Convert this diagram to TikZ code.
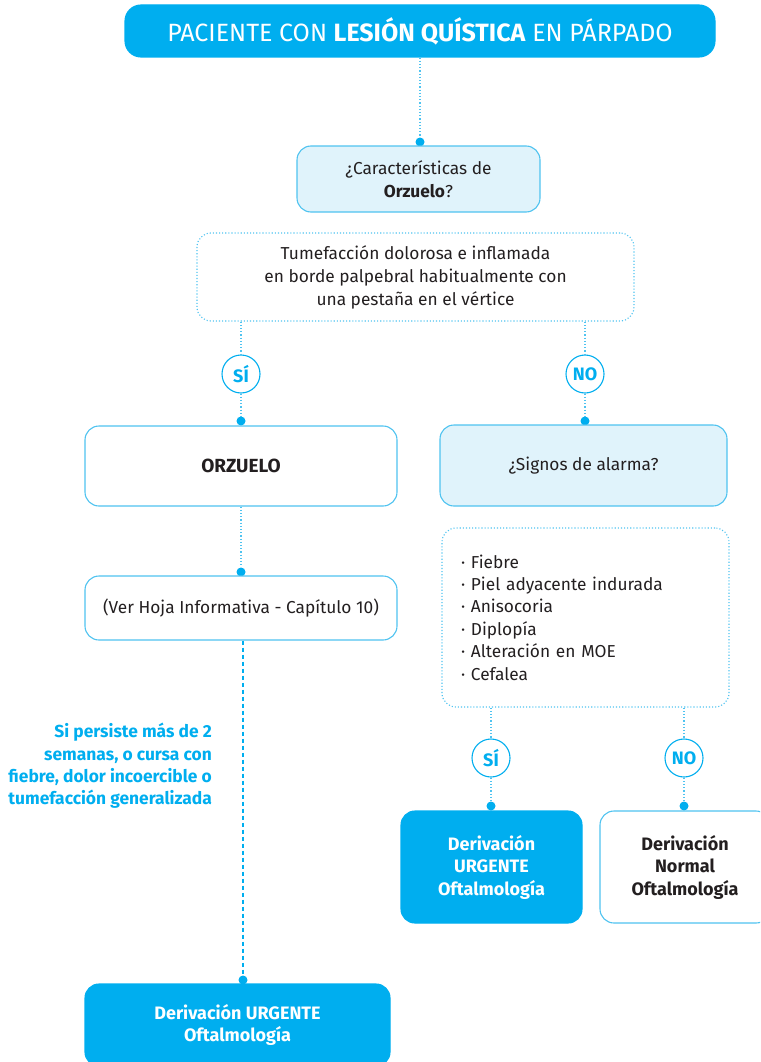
\documentclass[tikz,border=0pt]{standalone}
\usepackage{fontspec}
\setmainfont{Fira Sans}
\begin{document}
\definecolor{cyanmain}{HTML}{00AEEF}
\definecolor{cyanline}{HTML}{4FC3F0}
\definecolor{cyanpale}{HTML}{E0F3FB}
\definecolor{ink}{HTML}{231F20}
\begin{tikzpicture}[x=1pt,y=-1pt,
  box/.style={draw=cyanline, line width=1.1pt, rounded corners=14pt, align=center,
    inner sep=0pt, text=ink, font=\fontsize{17.3}{23}\selectfont},
  solidbox/.style={box, draw=cyanmain, fill=cyanmain, text=white},
  palebox/.style={box, fill=cyanpale},
  plainbox/.style={box, fill=white},
  dotbox/.style={box, draw=cyanline, line width=1.1pt, dash pattern=on 1.1pt off 2pt},
  answer/.style={circle, draw=cyanmain, line width=1.1pt, fill=white, minimum size=38pt,
    inner sep=0pt, text=cyanmain, font=\fontsize{18}{20}\selectfont\bfseries},
  joint/.style={circle, fill=cyanmain, minimum size=9pt, inner sep=0pt},
  dotline/.style={draw=cyanline, line width=1.2pt, dash pattern=on 1.2pt off 2pt},
  dashline/.style={draw=cyanmain, line width=1.2pt, dash pattern=on 4pt off 3pt},
  boldtext/.style={font=\fontsize{18}{22.5}\selectfont\bfseries}]
\useasboundingbox (0,0) rectangle (760,1062);
\begin{scope}
\clip (0,0) rectangle (760,1062);

% title
\node[solidbox, minimum width=590pt, minimum height=52pt, rounded corners=16pt,
  font=\fontsize{25}{28}\selectfont] (title) at (420,31)
  {PACIENTE CON \textbf{LESIÓN QUÍSTICA} EN PÁRPADO};

% first question
\node[joint] (j1) at (420,142) {};
\node[palebox, minimum width=243pt, minimum height=66pt] (carac) at (418.5,179)
  {¿Características de\\\textbf{Orzuelo}?};
\node[dotbox, minimum width=437pt, minimum height=88pt] (tume) at (415.5,277)
  {Tumefacción dolorosa e inflamada\\en borde palpebral habitualmente con\\una pestaña en el vértice};

\node[answer] (si1) at (241,374) {SÍ};
\node[answer] (no1) at (585,374) {NO};
\node[joint] (j2) at (241,421) {};
\node[joint] (j3) at (585,421) {};

% left branch
\node[plainbox, minimum width=312pt, minimum height=80pt, font=\fontsize{19}{23}\selectfont\bfseries] (orz) at (241,466) {ORZUELO};
\node[joint] (j4) at (241,572) {};
\node[plainbox, minimum width=312pt, minimum height=64pt] (ver) at (241,608)
  {(Ver Hoja Informativa - Capítulo 10)};
\node[joint] (j5) at (243,980) {};
\node[solidbox, minimum width=305pt, minimum height=82pt, boldtext] (urgb) at (237.5,1025)
  {Derivación URGENTE\\Oftalmología};
\node[anchor=east, align=right, text=cyanmain, inner sep=0pt,
  font=\fontsize{17.4}{22.3}\selectfont\bfseries] (cond) at (212,766)
  {Si persiste más de 2\\semanas, o cursa con\\fiebre, dolor incoercible o\\tumefacción generalizada};

% right branch
\node[palebox, minimum width=287pt, minimum height=81pt] (signos) at (583.5,465.5)
  {¿Signos de alarma?};
\node[dotbox, minimum width=287pt, minimum height=179pt, text width=249pt, align=left,
  font=\fontsize{17.3}{22.4}\selectfont] (lista) at (585.5,617.5)
  {· Fiebre\\· Piel adyacente indurada\\· Anisocoria\\· Diplopía\\· Alteración en MOE\\· Cefalea};

\node[answer] (si2) at (491,758) {SÍ};
\node[answer] (no2) at (684,758) {NO};
\node[joint] (j6) at (491,806) {};
\node[joint] (j7) at (684,806) {};
\node[solidbox, minimum width=181pt, minimum height=112pt, boldtext] (urg) at (491.5,867)
  {Derivación\\URGENTE\\Oftalmología};
\node[plainbox, minimum width=170pt, minimum height=112pt, boldtext] (norm) at (685,867)
  {Derivación\\Normal\\Oftalmología};

% connectors
\draw[dotline] (title) -- (j1);
\draw[dotline] (si1 |- tume.south) -- (si1);
\draw[dotline] (si1) -- (j2);
\draw[dotline] (no1 |- tume.south) -- (no1);
\draw[dotline] (no1) -- (j3);
\draw[dotline] (orz) -- (j4);
\draw[dashline] (j5 |- ver.south) -- (j5);
\draw[dotline] (si2 |- lista.south) -- (si2);
\draw[dotline] (si2) -- (j6);
\draw[dotline] (no2 |- lista.south) -- (no2);
\draw[dotline] (no2) -- (j7);
\end{scope}
\end{tikzpicture}
\end{document}
